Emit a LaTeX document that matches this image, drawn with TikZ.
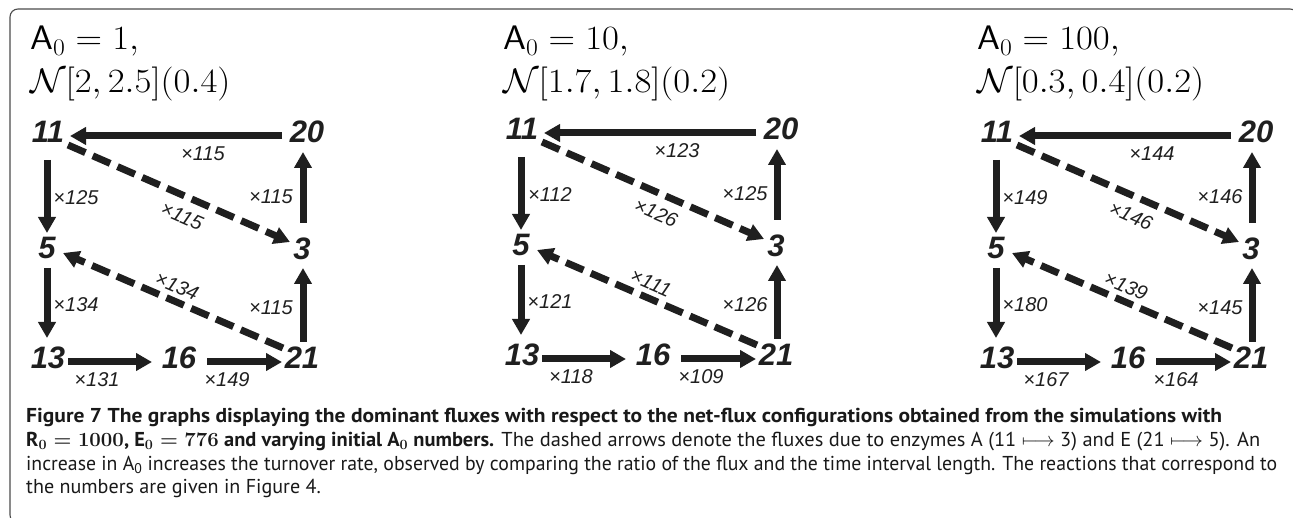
\RequirePackage{fix-cm}
\documentclass[tikz,border=0pt]{standalone}
\usepackage{fontspec}
\usetikzlibrary{arrows.meta,calc}
\newfontfamily\arialf{Liberation Sans}
\newfontfamily\capf{PT Sans}

\tikzset{
  vert/.style={font=\arialf\bfseries\itshape\fontsize{31}{31}\selectfont, inner sep=0pt, text=black!88},
  flab/.style={font=\arialf\itshape\fontsize{20}{20}\selectfont, inner sep=0pt, text=black!88},
  ttl/.style={font=\fontsize{34}{34}\selectfont, inner sep=0pt, anchor=base west},
  arr/.style={line width=7pt, draw=black!88, -{Triangle[length=16pt,width=17pt]}},
  darr/.style={arr, dash pattern=on 19pt off 8pt},
  capline/.style={font=\capf\fontsize{20.1}{24}\selectfont, inner sep=0pt, anchor=base west, text=black!90},
  framebox/.style={draw=black!70, line width=1.1pt, rounded corners=8pt}
}
\newcommand\ttlx[1]{\scalebox{1.08}[1]{#1}}
\newcommand\fitline[2]{\resizebox{#1}{\height}{#2}}

\newcommand\fluxpanel[2]{%
\begin{scope}[shift={#2}]
\node[vert] (#1-11) at (48,132) {11};
\node[vert] (#1-20) at (307,132) {20};
\node[vert] (#1-5)  at (47,248) {5};
\node[vert] (#1-3)  at (302,249) {3};
\node[vert] (#1-13) at (48,358) {13};
\node[vert] (#1-16) at (179,358) {16};
\node[vert] (#1-21) at (302,358) {21};
\node[flab] (#1-la) at (203,154) {×\lblA};
\node[flab] (#1-lb) at (76,198) {×\lblB};
\node[flab] (#1-lc) at (271,197) {×\lblC};
\node[flab, rotate=-23.6] (#1-ld) at (182,216) {×\lblD};
\node[flab, rotate=-23.4] (#1-le) at (177,286) {×\lblE};
\node[flab] (#1-lf) at (76,305) {×\lblF};
\node[flab] (#1-lg) at (271,308) {×\lblG};
\node[flab] (#1-lh) at (97,380) {×\lblH};
\node[flab] (#1-li) at (227,380) {×\lblI};
\end{scope}
\draw[arr] ($(#1-20)+(-25,4)$) -- ($(#1-11)+(22,4)$);
\draw[arr] ($(#1-11)+(-1,28)$) -- ($(#1-5)+(0,-15)$);
\draw[arr] ($(#1-5)+(0,20)$) -- ($(#1-13)+(-1,-20)$);
\draw[arr] ($(#1-3)+(1,-26)$) -- ($(#1-20)+(-4,20)$);
\draw[arr] ($(#1-21)+(1,-16)$) -- ($(#1-3)+(1,19)$);
\draw[arr] ($(#1-13)+(20,4)$) -- ($(#1-16)+(-27,4)$);
\draw[arr] ($(#1-16)+(28,4)$) -- ($(#1-21)+(-20,4)$);
\draw[darr] ($(#1-11)+(20,13)$) -- ($(#1-3)+(-12,-7)$);
\draw[darr] ($(#1-21)+(-19,-10)$) -- ($(#1-5)+(16,5)$);
}

\begin{document}
\begin{tikzpicture}[x=1pt,y=-1pt]
\useasboundingbox (0,0) rectangle (1293,518);
\draw[framebox] (10,9) rectangle (1298,523);

% titles
\node[ttl] (t1a) at (30,50) {\ttlx{$\mathsf{A}_0 = 1,$}};
\node[ttl] (t1b) at (30,93) {\ttlx{$\mathcal{N}[2,2.5](0.4)$}};
\node[ttl] (t2a) at (503,50) {\ttlx{$\mathsf{A}_0 = 10,$}};
\node[ttl] (t2b) at (503,93) {\ttlx{$\mathcal{N}[1.7,1.8](0.2)$}};
\node[ttl] (t3a) at (977,50) {\ttlx{$\mathsf{A}_0 = 100,$}};
\node[ttl] (t3b) at (977,93) {\ttlx{$\mathcal{N}[0.3,0.4](0.2)$}};

\def\lblA{115}\def\lblB{125}\def\lblC{115}\def\lblD{115}\def\lblE{134}%
\def\lblF{134}\def\lblG{115}\def\lblH{131}\def\lblI{149}%
\fluxpanel{a}{(0,0)}
\def\lblA{123}\def\lblB{112}\def\lblC{125}\def\lblD{126}\def\lblE{111}%
\def\lblF{121}\def\lblG{126}\def\lblH{118}\def\lblI{109}%
\fluxpanel{b}{(474,-3)}
\def\lblA{144}\def\lblB{149}\def\lblC{146}\def\lblD{146}\def\lblE{139}%
\def\lblF{180}\def\lblG{145}\def\lblH{167}\def\lblI{164}%
\fluxpanel{c}{(949,0)}

% caption
\node[capline] (cap1) at (26,423) {\fitline{1196pt}{\bfseries Figure 7 The graphs displaying the dominant fluxes with respect to the net-flux configurations obtained from the simulations with}};
\node[capline] (cap2) at (26,446.5) {\fitline{1234pt}{{\bfseries R{\boldmath$_0=1000$}, E{\boldmath$_0=776$} and varying initial A{\boldmath$_0$} numbers.} The dashed arrows denote the fluxes due to enzymes A (11 $\longmapsto$ 3) and E (21 $\longmapsto$ 5). An}};
\node[capline] (cap3) at (26,470) {\fitline{1251pt}{increase in A\textsubscript{0} increases the turnover rate, observed by comparing the ratio of the flux and the time interval length. The reactions that correspond to}};
\node[capline] (cap4) at (26,493.5) {the numbers are given in Figure 4.};
\end{tikzpicture}
\end{document}
